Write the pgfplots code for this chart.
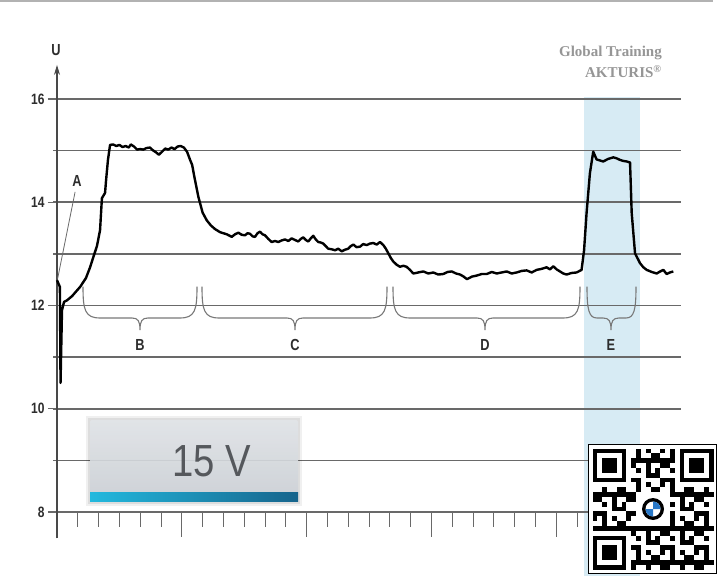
\documentclass[border=0pt]{standalone}
\usepackage{fontspec}
\setmainfont{Liberation Sans}
\newfontfamily\narrowfont[FakeStretch=0.8]{Liberation Sans}
\newfontfamily\bigfont[FakeStretch=0.85]{Liberation Sans}
\newfontfamily\serifb{Liberation Serif}
\usepackage{pgfplots}
\pgfplotsset{compat=1.18}
\usetikzlibrary{arrows.meta}
\definecolor{gridc}{RGB}{105,105,105}
\definecolor{labc}{RGB}{45,45,45}
\definecolor{bracec}{RGB}{120,120,120}
\definecolor{bandc}{RGB}{215,235,244}
\definecolor{boxtop}{RGB}{226,229,233}
\definecolor{boxbot}{RGB}{204,209,214}
\definecolor{barl}{RGB}{35,185,222}
\definecolor{barr}{RGB}{22,100,140}
\definecolor{textgray}{RGB}{85,88,92}
\definecolor{wmgray}{RGB}{150,150,150}
\definecolor{bmwblue}{RGB}{40,120,200}
\newcommand\mybrace[4]{%
\draw[bracec, line width=1.1pt, line cap=round] (#1,287) .. controls (#1,310) and ({#1+2},318) .. ({#1+#4},318) -- ({#2-8},318) .. controls ({#2-2},318) and (#2,321) .. (#2,330) .. controls (#2,321) and ({#2+2},318) .. ({#2+8},318) -- ({#3-#4},318) .. controls ({#3-2},318) and (#3,310) .. (#3,287);}
\begin{document}
\begin{tikzpicture}
\path[use as bounding box, fill=white] (0,0) rectangle (720pt,576pt);
\begin{axis}[
  at={(57pt,64pt)}, anchor=south west,
  scale only axis, width=624pt, height=413pt,
  xmin=0, xmax=30, ymin=8, ymax=16,
  clip=false,
  axis line style={draw=none},
  xtick=\empty,
  ytick={8,10,12,14,16},
  ytick pos=left,
  tick align=outside,
  major tick length=9pt,
  tick style={line width=1.2pt, color=gridc},
  /pgf/number format/assume math mode=true,
  yticklabel style={font=\narrowfont\bfseries\fontsize{15}{15}\selectfont, text=labc},
]
% highlighted interval E
\addplot[fill=bandc, draw=none] coordinates {(25.34,16.04) (28.03,16.04) (28.03,6.76) (25.34,6.76)} -- cycle;
% horizontal grid lines
\pgfplotsinvokeforeach{8,9,10,11,12,13,14,15,16}{
  \draw[gridc, line width=1.6pt] (axis cs:-0.19,#1) -- (axis cs:30,#1);
}
% x ticks
\pgfplotsinvokeforeach{1,2,3,4,5,7,8,9,10,11,13,14,15,16,17,19,20,21,22,23,25,26,27,28,29}{
  \draw[gridc, line width=1pt] (axis cs:#1,8) -- (axis cs:#1,7.71);
}
\pgfplotsinvokeforeach{6,12,18,24}{
  \draw[gridc, line width=1pt] (axis cs:#1,8) -- (axis cs:#1,7.51);
}
% y axis with arrow
\draw[gridc!70!black, line width=1.2pt, -{Stealth[length=10pt,width=6pt]}] (axis cs:0,7.49) -- (axis cs:0,16.66);
\node[font=\narrowfont\bfseries\fontsize{16}{16}\selectfont, text=labc] at (axis cs:-0.05,16.95) {U};
% voltage curve
\addplot[black, line width=2.4pt, line join=round] coordinates {
(0.00,12.49) (0.14,12.36) (0.17,10.50) (0.24,11.91) (0.34,12.07) (0.48,12.10)
(0.72,12.18) (1.11,12.36) (1.39,12.53) (1.59,12.74) (1.78,12.98) (1.92,13.15)
(2.07,13.46) (2.12,13.81) (2.16,14.08) (2.31,14.18) (2.36,14.43) (2.45,14.82)
(2.55,15.11) (2.70,15.12) (2.85,15.09) (3.00,15.11) (3.15,15.07) (3.30,15.09)
(3.45,15.06) (3.55,15.12) (3.70,15.08) (3.85,15.02) (4.00,15.03) (4.15,15.02)
(4.30,15.05) (4.47,15.06) (4.60,15.01) (4.75,14.97) (4.90,14.92) (5.05,14.98)
(5.20,15.04) (5.35,15.02) (5.50,15.06) (5.65,15.03) (5.80,15.08) (5.95,15.09)
(6.10,15.06) (6.25,14.98) (6.40,14.82) (6.50,14.72) (6.60,14.50) (6.70,14.30)
(6.80,14.10) (6.90,13.95) (7.00,13.80) (7.20,13.65) (7.40,13.55) (7.60,13.48)
(7.84,13.42) (8.00,13.40) (8.16,13.38) (8.40,13.33) (8.56,13.38) (8.72,13.41)
(8.88,13.37) (9.04,13.36) (9.16,13.40) (9.28,13.39) (9.40,13.34) (9.52,13.33)
(9.64,13.40) (9.76,13.43) (9.88,13.38) (10.00,13.36) (10.16,13.29) (10.32,13.23)
(10.48,13.25) (10.64,13.23) (10.80,13.26) (10.96,13.28) (11.12,13.25) (11.28,13.30)
(11.44,13.27) (11.60,13.24) (11.72,13.29) (11.84,13.32) (11.96,13.27) (12.08,13.24)
(12.20,13.30) (12.32,13.35) (12.44,13.28) (12.56,13.23) (12.68,13.22) (12.80,13.20)
(12.92,13.15) (13.04,13.10) (13.20,13.09) (13.37,13.07) (13.52,13.10) (13.69,13.05)
(13.84,13.08) (14.00,13.10) (14.12,13.15) (14.25,13.18) (14.40,13.13) (14.57,13.14)
(14.72,13.19) (14.89,13.17) (15.05,13.20) (15.21,13.21) (15.37,13.18) (15.53,13.23)
(15.69,13.17) (15.81,13.10) (15.93,13.01) (16.05,12.92) (16.17,12.85) (16.33,12.79)
(16.49,12.75) (16.65,12.77) (16.81,12.75) (16.97,12.69) (17.13,12.62) (17.37,12.64)
(17.61,12.66) (17.85,12.62) (18.09,12.64) (18.33,12.60) (18.57,12.61) (18.78,12.65)
(18.98,12.66) (19.18,12.62) (19.38,12.60) (19.55,12.56) (19.71,12.51) (19.95,12.56)
(20.18,12.58) (20.42,12.61) (20.66,12.61) (20.90,12.65) (21.14,12.62) (21.38,12.64)
(21.62,12.66) (21.86,12.62) (22.10,12.64) (22.34,12.67) (22.58,12.68) (22.82,12.64)
(23.06,12.69) (23.30,12.71) (23.54,12.74) (23.70,12.70) (23.86,12.76) (24.02,12.70)
(24.18,12.66) (24.34,12.62) (24.50,12.60) (24.74,12.63) (24.98,12.64) (25.22,12.69)
(25.34,13.07) (25.46,13.79) (25.62,14.56) (25.78,14.98) (25.94,14.83) (26.10,14.81)
(26.26,14.79) (26.50,14.84) (26.75,14.87) (26.91,14.85) (27.07,14.82) (27.23,14.80)
(27.39,14.79) (27.55,14.77) (27.63,13.79) (27.79,13.01) (28.03,12.82) (28.19,12.74)
(28.35,12.69) (28.59,12.65) (28.83,12.62) (29.00,12.66) (29.15,12.69) (29.31,12.61)
(29.47,12.64) (29.63,12.66)
};
% label A
\draw[gridc, line width=0.8pt] (axis cs:0.87,14.2) -- (axis cs:0.03,12.52);
\node[font=\narrowfont\bfseries\fontsize{16}{16}\selectfont, text=labc] at (axis cs:0.96,14.42) {A};
\end{axis}
% annotations in image pixel coordinates
\begin{scope}[shift={(0pt,576pt)}, x=1pt, y=-1pt]
\draw[gray!60, line width=1.5pt] (0,0.8) -- (713,0.8);
\mybrace{83}{140}{197}{17}
\mybrace{202}{295}{387}{17}
\mybrace{393}{485}{580}{17}
\mybrace{587}{611}{636}{10}
\foreach \lx/\lt in {140/B,295/C,485/D,611/E}{
  \node[font=\narrowfont\bfseries\fontsize{16}{16}\selectfont, text=labc] at (\lx,345) {\lt};
}
% watermark
\node[anchor=base east, text=wmgray, font=\serifb\bfseries\fontsize{15}{15}\selectfont, inner sep=0pt] at (662,57) {Global Training};
\node[anchor=base east, text=wmgray, font=\serifb\bfseries\fontsize{15}{15}\selectfont, inner sep=0pt] at (662,78) {AKTURIS\textsuperscript{®}};
% 15 V box
\fill[black, opacity=0.06] (86,416) rectangle (302,506);
\fill[black, opacity=0.08] (88,418) rectangle (300,504);
\shade[top color=boxtop, bottom color=boxbot, opacity=0.9, rounded corners=2pt] (90,420) rectangle (298,501);
\shade[left color=barl, right color=barr] (90,492) rectangle (298,501);
\node[text=textgray, font=\bigfont\fontsize{45}{45}\selectfont, inner sep=0pt] at (212,461.5) {15 V};
% QR code style watermark
\fill[white] (588,444) rectangle (717,574);
\draw[black, line width=1.5pt] (588.5,444.5) rectangle (716.5,573.5);
\foreach \i in {0,...,24}{
  \foreach \j in {0,...,24}{
    \pgfmathtruncatemacro\zone{or(or(and(\i<8,\j<8),and(\i>16,\j<8)),or(and(\i<8,\j>16),and(and(\i>8,\i<16),and(\j>8,\j<16))))}
    \pgfmathtruncatemacro\res{mod(\i*\i*7+\j*\j*3+\i*\j*5+\i*11+\j,7)<3}
    \ifnum\zone=0 \ifnum\res=1
      \fill[black] ({592.5+\i*4.84},{448.5+\j*4.84}) rectangle ++(4.9,4.9);
    \fi\fi
  }
}
\foreach \fx/\fy in {0/0,18/0,0/18}{
  \fill[black] ({592.5+\fx*4.84},{448.5+\fy*4.84}) rectangle ++(33.88,33.88);
  \fill[white] ({592.5+\fx*4.84+4.84},{448.5+\fy*4.84+4.84}) rectangle ++(24.2,24.2);
  \fill[black] ({592.5+\fx*4.84+9.68},{448.5+\fy*4.84+9.68}) rectangle ++(14.52,14.52);
}
\end{scope}
% BMW style roundel in the QR code
\begin{scope}[shift={(653pt,67pt)}]
\fill[white] (-14pt,-14pt) rectangle (14pt,14pt);
\fill[black] (0,0) circle (11pt);
\fill[white] (0,0) circle (7.5pt);
\fill[bmwblue] (0,0) -- (7.5pt,0) arc (0:90:7.5pt) -- cycle;
\fill[bmwblue] (0,0) -- (-7.5pt,0) arc (180:270:7.5pt) -- cycle;
\end{scope}
\end{tikzpicture}
\end{document}
